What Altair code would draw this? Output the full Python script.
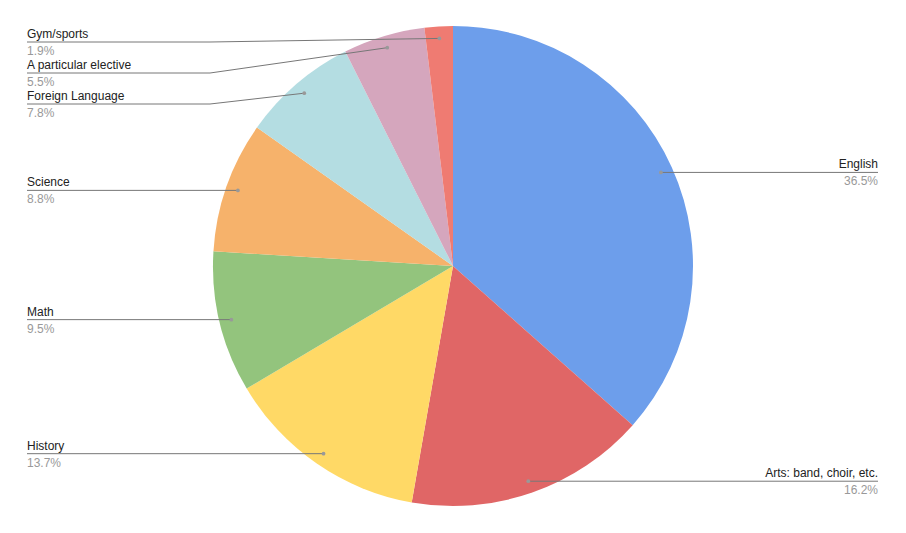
import altair as alt
import pandas as pd
import numpy as np

# ---- data ----
labels = ["English", "Arts: band, choir, etc.", "History", "Math", "Science",
          "Foreign Language", "A particular elective", "Gym/sports"]
values = [36.5, 16.2, 13.7, 9.5, 8.8, 7.8, 5.5, 1.9]
pct_text = ["36.5%", "16.2%", "13.7%", "9.5%", "8.8%", "7.8%", "5.5%", "1.9%"]
colors = ["#6d9eeb", "#e06666", "#ffd966", "#93c47d", "#f6b26b",
          "#b4dde2", "#d5a6bd", "#ef7b72"]

# ---- layout ----
W, H = 890, 517
CX, CY = 445, 258
R = 240
DOT_R = 0.95 * R
LEFT_X, RIGHT_X = 19, 870
ELBOW_L, ELBOW_R = 202, 688
GAP = 31
TOP_MIN = 34
FONT = "Liberation Sans"

total = sum(values)
vals = np.array(values)
cum = np.concatenate([[0], np.cumsum(vals)[:-1]])
mid = (cum + vals / 2) / total * 2 * np.pi
dot_x = CX + DOT_R * np.sin(mid)
dot_y = CY - DOT_R * np.cos(mid)
side = np.where(np.sin(mid) >= 0, "right", "left")

# label vertical positions with simple overlap avoidance
label_y = np.zeros(len(labels))
for s in ["left", "right"]:
    idx = [i for i in range(len(labels)) if side[i] == s]
    idx.sort(key=lambda i: dot_y[i])
    prev = -1e9
    for i in idx:
        y = max(dot_y[i], prev + GAP, TOP_MIN)
        label_y[i] = y
        prev = y

pie_df = pd.DataFrame({"label": labels, "value": values, "idx": range(len(labels))})

line_rows = []
for i, lab in enumerate(labels):
    ex = ELBOW_R if side[i] == "right" else ELBOW_L
    endx = RIGHT_X if side[i] == "right" else LEFT_X
    line_rows.append({"label": lab, "o": 0, "x": dot_x[i], "y": dot_y[i]})
    line_rows.append({"label": lab, "o": 1, "x": ex, "y": label_y[i]})
    line_rows.append({"label": lab, "o": 2, "x": endx, "y": label_y[i]})
line_df = pd.DataFrame(line_rows)

dot_df = pd.DataFrame({"label": labels, "x": dot_x, "y": dot_y})
text_df = pd.DataFrame({
    "label": labels, "pct": pct_text, "side": side,
    "x": np.where(side == "right", RIGHT_X, LEFT_X),
    "y_name": label_y - 4, "y_pct": label_y + 13,
})

xs = alt.Scale(domain=[0, W], nice=False, zero=False)
ys = alt.Scale(domain=[0, H], reverse=True, nice=False, zero=False)

pie = alt.Chart(pie_df).mark_arc(outerRadius=R).encode(
    theta=alt.Theta("value:Q", stack=True),
    order=alt.Order("idx:Q"),
    color=alt.Color("label:N", scale=alt.Scale(domain=labels, range=colors), legend=None),
    x=alt.value(CX), y=alt.value(CY),
)

lines = alt.Chart(line_df).mark_line(color="#777777", strokeWidth=1).encode(
    x=alt.X("x:Q", scale=xs, axis=None),
    y=alt.Y("y:Q", scale=ys, axis=None),
    detail="label:N",
    order="o:Q",
)

dots = alt.Chart(dot_df).mark_circle(size=14, color="#999999", opacity=1).encode(
    x=alt.X("x:Q", scale=xs, axis=None),
    y=alt.Y("y:Q", scale=ys, axis=None),
)

def text_layers(s, align):
    base = alt.Chart(text_df).transform_filter(alt.datum.side == s)
    name = base.mark_text(align=align, baseline="alphabetic", font=FONT, fontSize=12,
                          color="#222222").encode(
        x=alt.X("x:Q", scale=xs, axis=None),
        y=alt.Y("y_name:Q", scale=ys, axis=None),
        text="label:N",
    )
    pct = base.mark_text(align=align, baseline="alphabetic", font=FONT, fontSize=12,
                         color="#999999").encode(
        x=alt.X("x:Q", scale=xs, axis=None),
        y=alt.Y("y_pct:Q", scale=ys, axis=None),
        text="pct:N",
    )
    return [name, pct]

chart = alt.layer(
    pie, lines, dots, *text_layers("left", "left"), *text_layers("right", "right")
).properties(
    width=W, height=H, padding=0,
    autosize=alt.AutoSizeParams(type="none"),
).configure_view(stroke=None)

chart.save("out.html", embed_options={"renderer": "svg", "actions": False})
